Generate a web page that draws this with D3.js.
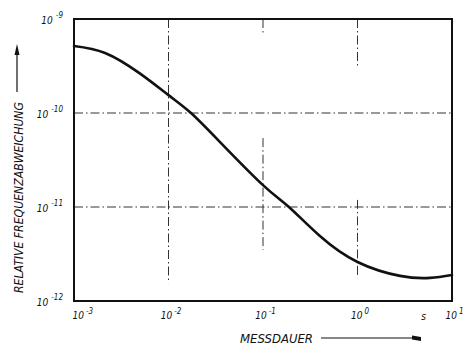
<!DOCTYPE html>
<html><head><meta charset="utf-8">
<script src="https://cdn.jsdelivr.net/npm/d3@7"></script>
<style>
html,body{margin:0;padding:0;background:#fff;}
svg{display:block;}
text{font-family:"DejaVu Sans Condensed","Liberation Sans Narrow","DejaVu Sans",sans-serif;font-style:italic;fill:#111;}
</style></head>
<body>
<script>
// ---- data ----
const xTicks = [1e-3, 1e-2, 1e-1, 1e0, 1e1];
const xTickExp = ["-3", "-2", "-1", "0", "1"];
const yTicks = [1e-9, 1e-10, 1e-11, 1e-12];
const yTickExp = ["-9", "-10", "-11", "-12"];
const messdauer = [0.001, 0.00213, 0.00488, 0.01, 0.0173, 0.0351, 0.1, 0.188, 0.40, 1.0, 2.82, 5.85, 10];
const abweichung = [5.16e-10, 4.35e-10, 2.67e-10, 1.55e-10, 1.0e-10, 4.91e-11, 1.71e-11, 1.0e-11, 4.91e-12, 2.6e-12, 1.85e-12, 1.76e-12, 1.89e-12];
const xTitle = "MESSDAUER";
const yTitle = "RELATIVE FREQUENZABWEICHUNG";
const unitLabel = "s";
// gridline segments (in data values) as drawn in the original
const vGridX = [0.01, 0.1, 0.1, 1, 1];
const vGridFrom = [1e-9, 1e-9, 5.4e-11, 1e-9, 1.19e-11];
const vGridTo = [1.55e-12, 6.8e-10, 3.5e-12, 3.0e-10, 1.76e-12];
const hGridY = [1e-10, 1e-11];

// ---- layout ----
const W = 475, H = 356;
const m = {left: 74, right: 23, top: 19, bottom: 55};
const svg = d3.select("body").append("svg").attr("width", W).attr("height", H);
const x = d3.scaleLog().domain([1e-3, 10]).range([m.left, W - m.right]);
const y = d3.scaleLog().domain([1e-12, 1e-9]).range([H - m.bottom, m.top]);

const ink = "#111";

// gridlines (dash-dot)
const grid = svg.append("g").attr("stroke", "#333").attr("stroke-width", 1)
  .attr("stroke-dasharray", "9,3,1.5,3").attr("fill", "none");
hGridY.forEach(v => {
  grid.append("line").attr("x1", x(1e-3)).attr("x2", x(10)).attr("y1", y(v)).attr("y2", y(v));
});
vGridX.forEach((v, i) => {
  grid.append("line").attr("x1", x(v)).attr("x2", x(v)).attr("y1", y(vGridFrom[i])).attr("y2", y(vGridTo[i]));
});

// curve
const data = messdauer.map((d, i) => [d, abweichung[i]]);
svg.append("path").datum(data)
  .attr("fill", "none").attr("stroke", ink).attr("stroke-width", 2.6)
  .attr("stroke-linecap", "round")
  .attr("d", d3.line().x(d => x(d[0])).y(d => y(d[1])).curve(d3.curveNatural));

// frame
svg.append("rect").attr("x", x(1e-3)).attr("y", y(1e-9))
  .attr("width", x(10) - x(1e-3)).attr("height", y(1e-12) - y(1e-9))
  .attr("fill", "none").attr("stroke", ink).attr("stroke-width", 2);

// x axis labels
const xAxis = d3.axisBottom(x).tickValues(xTicks).tickSize(0).tickFormat(() => "");
const gx = svg.append("g").attr("transform", `translate(0,${H - m.bottom})`).call(xAxis);
gx.select(".domain").remove();
gx.selectAll(".tick").each(function(d, i) {
  const t = d3.select(this).append("text").attr("y", 18).attr("font-size", 10)
    .attr("text-anchor", i === 0 ? "start" : "middle").attr("x", i === 0 ? -2 : 2);
  t.append("tspan").text("10");
  t.append("tspan").attr("dy", -5).attr("dx", 2).attr("font-size", 8).text(xTickExp[i]);
});
svg.append("text").attr("x", x(5)).attr("y", H - m.bottom + 19).attr("font-size", 10)
  .attr("text-anchor", "middle").text(unitLabel);

// y axis labels
const yAxis = d3.axisLeft(y).tickValues(yTicks).tickSize(0).tickFormat(() => "");
const gy = svg.append("g").attr("transform", `translate(${m.left},0)`).call(yAxis);
gy.select(".domain").remove();
gy.selectAll(".tick").each(function(d, i) {
  const t = d3.select(this).append("text").attr("x", -11).attr("y", 4).attr("font-size", 10)
    .attr("text-anchor", "end");
  t.append("tspan").text("10");
  t.append("tspan").attr("dy", -6).attr("dx", 3).attr("font-size", 8).text(yTickExp[i]);
});

// x title + arrow
svg.append("text").attr("x", 240).attr("y", 343).attr("font-size", 12.5)
  .attr("textLength", 73).attr("lengthAdjust", "spacingAndGlyphs").text(xTitle);
svg.append("line").attr("x1", 321).attr("x2", 420).attr("y1", 338).attr("y2", 338)
  .attr("stroke", ink).attr("stroke-width", 1.2);
svg.append("path").attr("d", "M412,335.5 L421,337 L421,341 L412,339.5 Z").attr("fill", ink);

// y title + arrow
svg.append("text").attr("transform", "translate(23,293) rotate(-90)").attr("font-size", 12.5)
  .attr("textLength", 191).attr("lengthAdjust", "spacingAndGlyphs").text(yTitle);
svg.append("line").attr("x1", 17).attr("x2", 17).attr("y1", 92).attr("y2", 48)
  .attr("stroke", ink).attr("stroke-width", 1.2);
svg.append("path").attr("d", "M14.5,55 L17,44 L19.5,55 Z").attr("fill", ink);
</script>
</body></html>
